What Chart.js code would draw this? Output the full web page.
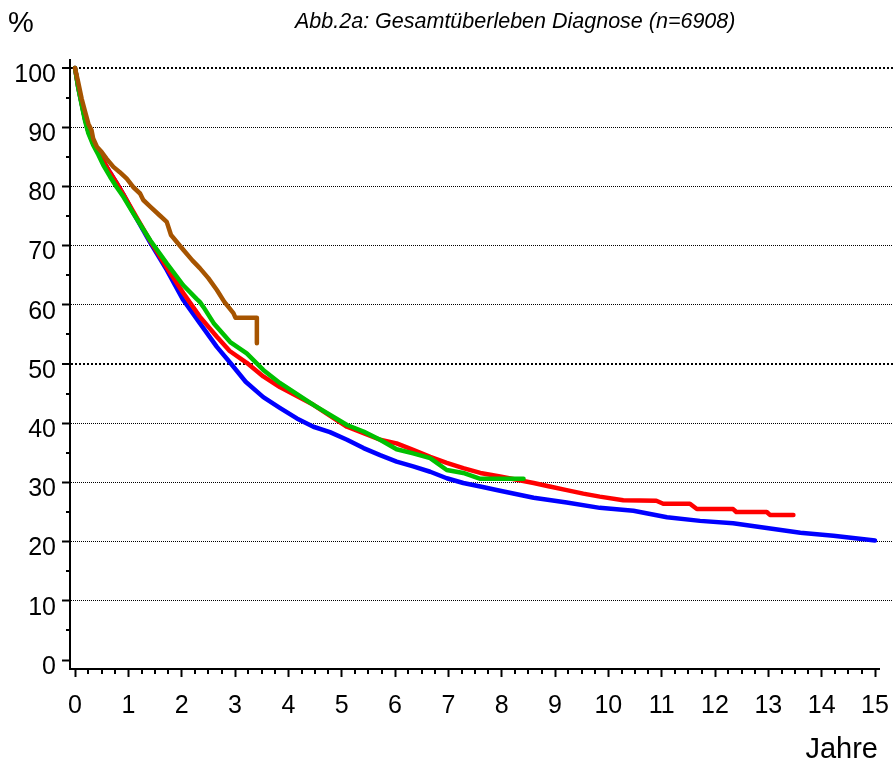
<!DOCTYPE html>
<html>
<head>
<meta charset="utf-8">
<script src="https://cdn.jsdelivr.net/npm/chart.js@4/dist/chart.umd.min.js"></script>
<style>
  body { margin: 0; background: #fff; }
  canvas { display: block; }
</style>
</head>
<body>
<canvas id="kmChart" width="893" height="765"></canvas>
<script>
// Axis ticks
const xTicks = [0, 1, 2, 3, 4, 5, 6, 7, 8, 9, 10, 11, 12, 13, 14, 15];
const yTicks = [0, 10, 20, 30, 40, 50, 60, 70, 80, 90, 100];

// Survival curves (years, %)
const timeBlue = [0, 0.06, 0.125, 0.19, 0.25, 0.34, 0.44, 0.53, 0.66, 0.78, 0.91, 1.09, 1.41, 1.72, 2.03, 2.34, 2.66, 2.91, 3.2, 3.53, 3.84, 4.16, 4.47, 4.78, 5.1, 5.41, 5.72, 6.03, 6.34, 6.66, 6.97, 7.28, 7.6, 7.97, 8.6, 9.22, 9.84, 10.47, 11.1, 11.72, 12.34, 12.97, 13.6, 14.22, 15.0];
const survBlue = [100, 96.8, 94.0, 91.3, 89.3, 87.3, 85.8, 84.3, 82.3, 80.6, 78.6, 75.6, 70.5, 65.9, 60.8, 56.9, 52.9, 50.2, 47.0, 44.4, 42.6, 40.8, 39.4, 38.5, 37.2, 35.8, 34.6, 33.5, 32.7, 31.8, 30.7, 29.9, 29.3, 28.6, 27.4, 26.6, 25.7, 25.2, 24.1, 23.5, 23.1, 22.3, 21.5, 21.0, 20.2];

const timeRed = [0, 0.06, 0.125, 0.19, 0.25, 0.34, 0.44, 0.53, 0.66, 0.78, 0.91, 1.09, 1.41, 1.72, 2.03, 2.34, 2.66, 2.9, 3.22, 3.53, 3.84, 4.47, 5.1, 5.41, 5.72, 6.03, 6.34, 6.66, 6.97, 7.28, 7.6, 7.97, 8.6, 8.9, 9.22, 9.53, 9.84, 10.28, 10.9, 11.03, 11.53, 11.66, 12.34, 12.4, 12.97, 13.03, 13.47];
const survRed = [100, 96.8, 94.0, 91.3, 89.3, 87.3, 85.8, 84.3, 82.3, 80.6, 78.6, 75.8, 70.8, 66.3, 62.0, 58.0, 54.6, 52.2, 50.2, 47.9, 46.1, 43.1, 39.4, 38.3, 37.2, 36.6, 35.5, 34.3, 33.3, 32.4, 31.6, 31.0, 29.9, 29.3, 28.7, 28.1, 27.6, 27.0, 26.9, 26.4, 26.4, 25.5, 25.5, 25.0, 25.0, 24.5, 24.5];

const timeGreen = [0, 0.06, 0.125, 0.19, 0.25, 0.34, 0.44, 0.53, 0.66, 0.78, 0.91, 1.09, 1.41, 1.72, 2.03, 2.28, 2.34, 2.41, 2.6, 2.91, 3.22, 3.53, 3.84, 4.47, 5.1, 5.41, 5.72, 6.03, 6.34, 6.66, 6.97, 7.28, 7.6, 8.41];
const survGreen = [100, 96.7, 93.8, 91.0, 89.0, 87.0, 85.3, 83.6, 81.6, 79.9, 78.2, 75.5, 70.9, 67.0, 63.3, 61.0, 60.5, 59.6, 56.9, 53.7, 51.8, 49.0, 46.8, 43.1, 39.7, 38.6, 37.2, 35.6, 34.9, 34.1, 32.1, 31.6, 30.6, 30.6];

const timeBrown = [0, 0.06, 0.125, 0.19, 0.25, 0.31, 0.34, 0.41, 0.5, 0.59, 0.72, 0.84, 0.97, 1.09, 1.22, 1.28, 1.41, 1.6, 1.72, 1.8, 2.03, 2.2, 2.34, 2.5, 2.66, 2.8, 2.97, 3.01, 3.41, 3.41];
const survBrown = [100, 97.6, 94.8, 92.6, 90.6, 89.5, 88.1, 86.7, 85.8, 84.7, 83.3, 82.4, 81.3, 79.9, 78.8, 77.7, 76.6, 75.0, 74.0, 71.8, 69.3, 67.5, 66.2, 64.5, 62.5, 60.5, 58.6, 57.8, 57.8, 53.5];

const FONT = '"Liberation Sans", Arial, sans-serif';
Chart.defaults.font.family = FONT;
Chart.defaults.color = '#000';

function points(ts, ss) {
    return ts.map((t, i) => ({ x: t, y: ss[i] }));
}

function curve(ts, ss, color) {
    return {
        data: points(ts, ss),
        borderColor: color,
        borderWidth: 4.5,
        pointRadius: 0,
        tension: 0,
        borderJoinStyle: 'round',
        borderCapStyle: 'round',
        fill: false
    };
}

const isThick = v => v === 50 || v === 100;

// Minor ticks, x axis line and free text
const decor = {
    id: 'decor',
    afterDraw(chart) {
        const { ctx, scales: { x, y }, chartArea } = chart;
        ctx.save();
        ctx.strokeStyle = '#000';
        ctx.lineWidth = 2;

        // x axis line
        ctx.beginPath();
        ctx.moveTo(chartArea.left - 1, chartArea.bottom);
        ctx.lineTo(x.getPixelForValue(15) + 5, chartArea.bottom);
        ctx.stroke();

        // minor x ticks every quarter year
        ctx.beginPath();
        for (let i = 1; i < 60; i++) {
            if (i % 4 === 0) continue;
            const px = Math.round(x.getPixelForValue(i / 4));
            ctx.moveTo(px, chartArea.bottom);
            ctx.lineTo(px, chartArea.bottom + 5);
        }
        ctx.stroke();

        // minor y ticks every 5 %
        ctx.beginPath();
        for (let v = 5; v < 100; v += 10) {
            const py = Math.round(y.getPixelForValue(v));
            ctx.moveTo(chartArea.left, py);
            ctx.lineTo(chartArea.left - 4, py);
        }
        ctx.stroke();

        ctx.fillStyle = '#000';
        ctx.textBaseline = 'alphabetic';
        ctx.textAlign = 'left';
        ctx.font = 'italic 21.5px ' + FONT;
        ctx.fillText('Abb.2a: Gesamtüberleben Diagnose (n=6908)', 295, 28);
        ctx.font = '29px ' + FONT;
        ctx.fillText('%', 8, 32);
        ctx.textAlign = 'right';
        ctx.fillText('Jahre', 878, 758);
        ctx.restore();
    }
};

new Chart(document.getElementById('kmChart'), {
    type: 'line',
    data: {
        datasets: [
            curve(timeBrown, survBrown, '#a65400'),
            curve(timeGreen, survGreen, '#00c000'),
            curve(timeRed, survRed, '#ff0000'),
            curve(timeBlue, survBlue, '#0000ff')
        ]
    },
    options: {
        responsive: false,
        animation: false,
        layout: { padding: { top: 60, left: 0, right: 0, bottom: 0 } },
        plugins: {
            legend: { display: false },
            tooltip: { enabled: false }
        },
        scales: {
            x: {
                type: 'linear',
                min: -0.09375,
                max: 15.3375,
                afterBuildTicks: s => { s.ticks = xTicks.map(v => ({ value: v })); },
                afterFit: s => {
                    s.height = 96;
                    s.paddingLeft = 0;
                    s.paddingRight = 0;
                },
                border: { display: false },
                grid: {
                    drawOnChartArea: false,
                    tickLength: 8,
                    tickWidth: 2,
                    tickColor: '#000'
                },
                ticks: {
                    font: { size: 25 },
                    padding: 14,
                    maxRotation: 0,
                    autoSkip: false
                }
            },
            y: {
                min: -1.52,
                max: 101.351,
                afterBuildTicks: s => { s.ticks = yTicks.map(v => ({ value: v })); },
                afterFit: s => { s.width = 70; },
                border: {
                    display: true,
                    width: 2,
                    color: '#000',
                    dash: c => (c.tick && isThick(c.tick.value)) ? [2, 2] : [1, 1]
                },
                grid: {
                    color: c => (c.tick && c.tick.value === 0) ? 'rgba(0,0,0,0)' : '#000',
                    lineWidth: c => (c.tick && isThick(c.tick.value)) ? 2 : 1,
                    tickLength: 8,
                    tickWidth: 2,
                    tickColor: '#000'
                },
                ticks: {
                    font: { size: 25 },
                    padding: 6,
                    labelOffset: 7,
                    autoSkip: false
                }
            }
        }
    },
    plugins: [decor]
});
</script>
</body>
</html>
